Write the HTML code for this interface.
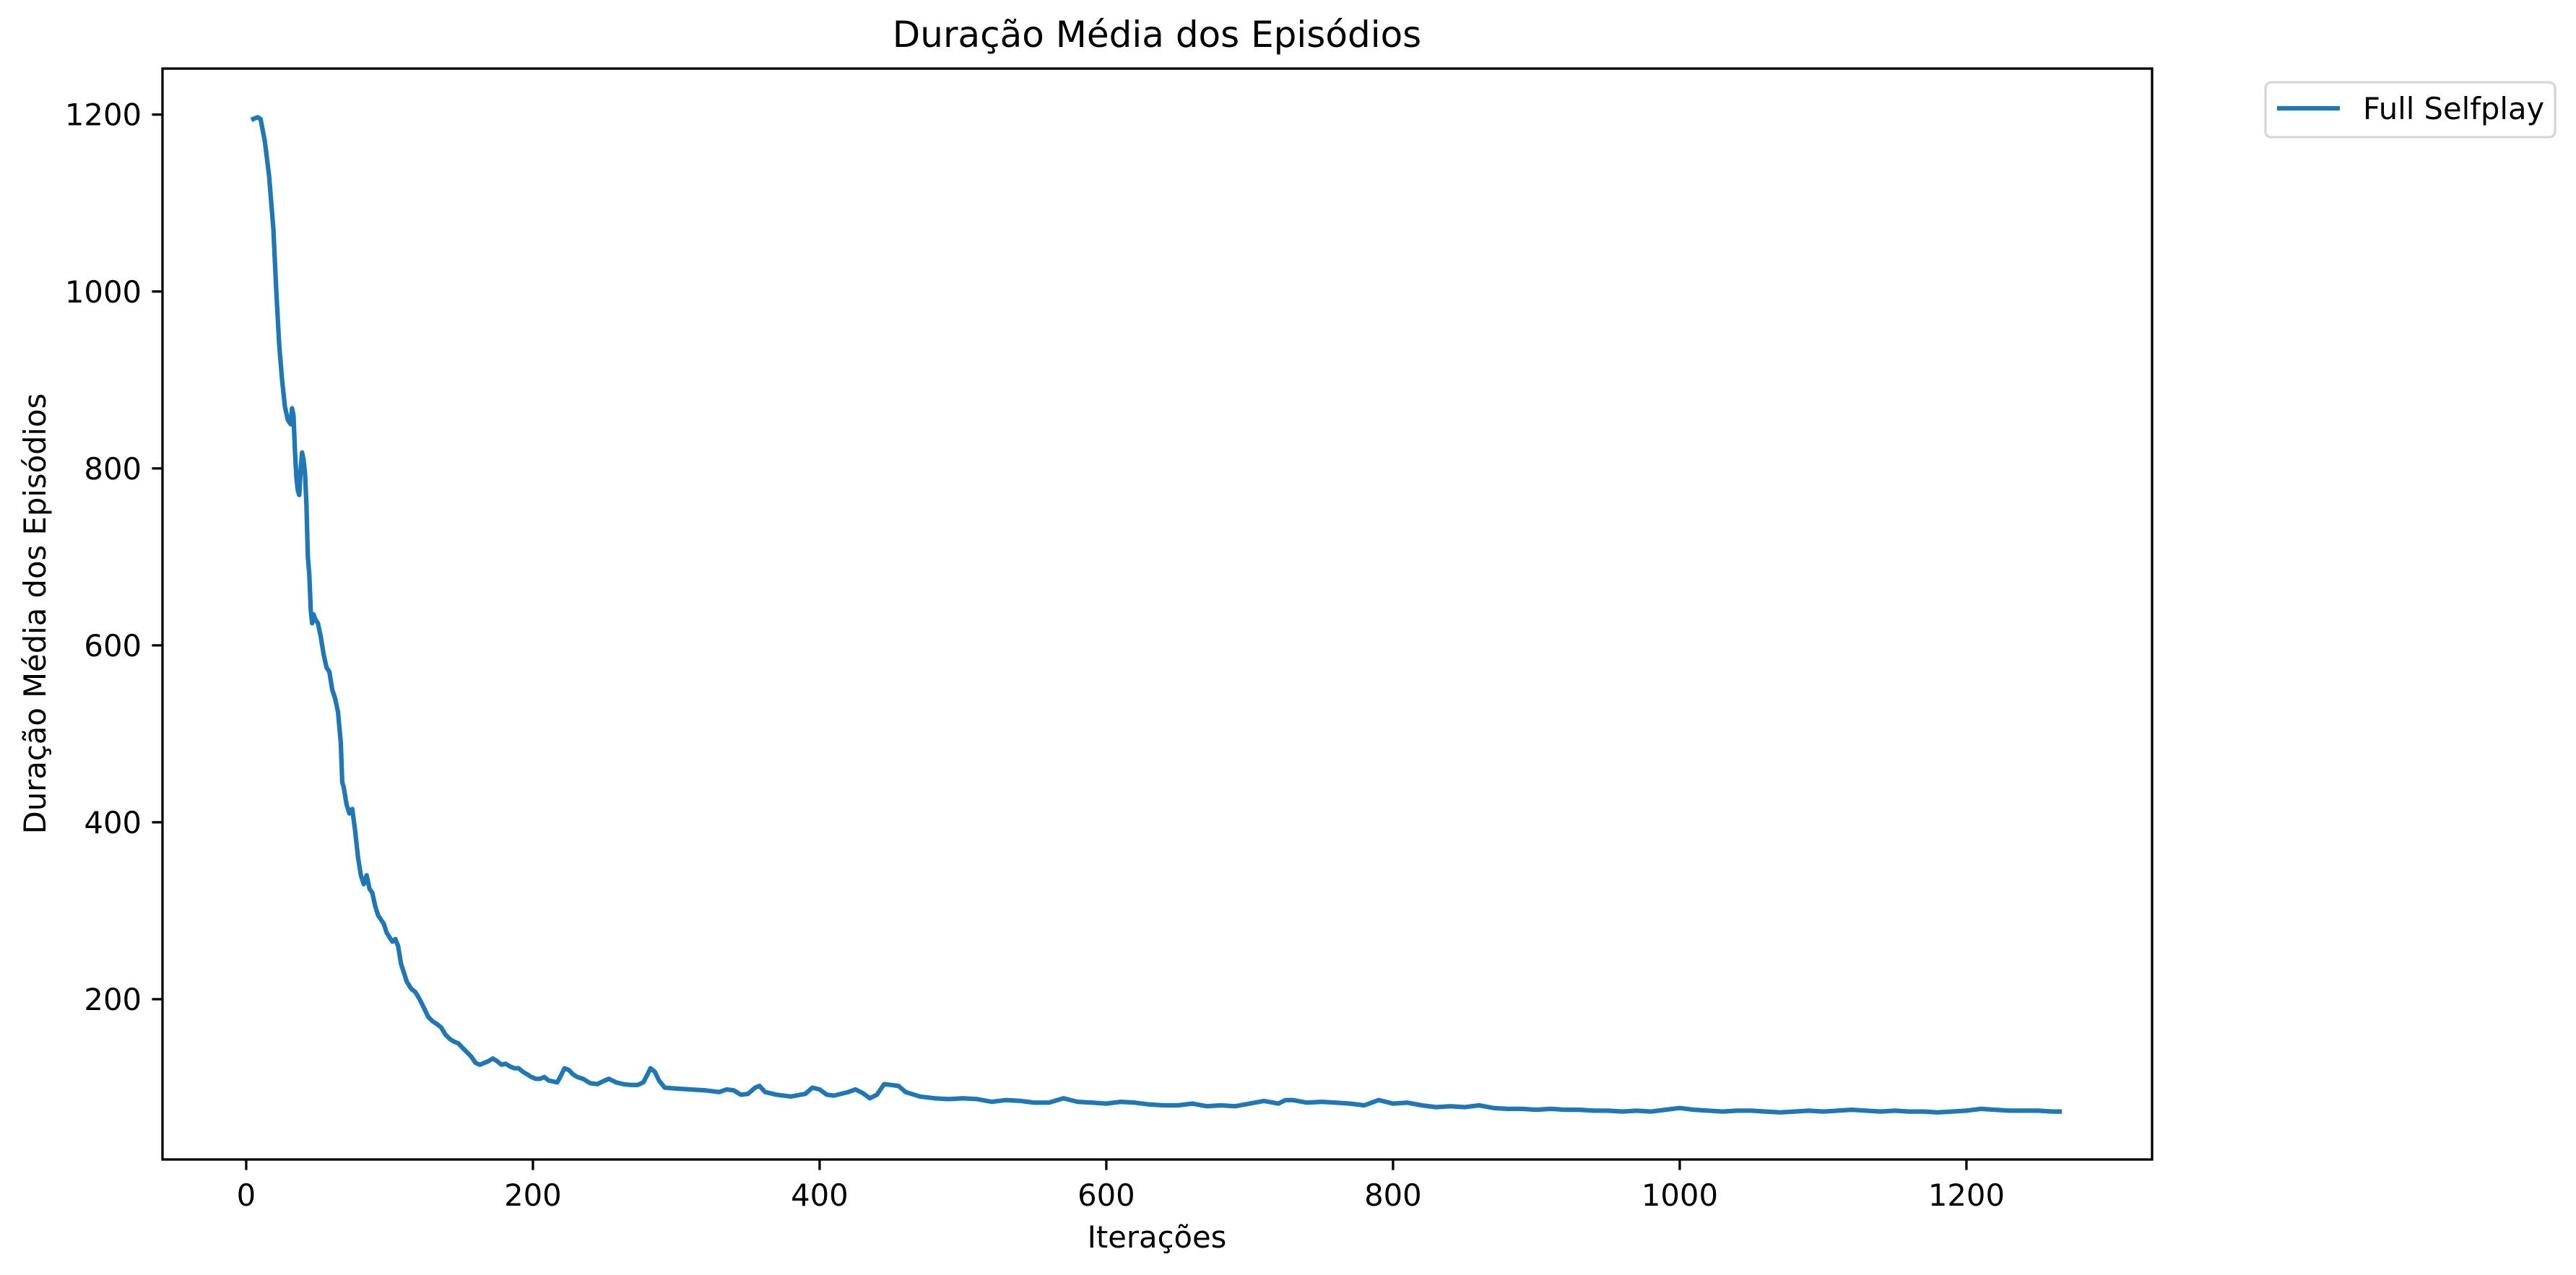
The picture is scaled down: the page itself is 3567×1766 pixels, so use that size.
<!DOCTYPE html>
<html><head><meta charset="utf-8"><style>
html,body{margin:0;padding:0;background:#fff;}
svg{display:block;font-family:"DejaVu Sans","Liberation Sans",sans-serif;}
</style></head><body>
<svg id="chart" width="3567" height="1766" viewBox="0 0 3567 1766" xmlns="http://www.w3.org/2000/svg">
<rect width="3567" height="1766" fill="#fff"/>
<text x="1602" y="65" font-size="50" text-anchor="middle">Duração Média dos Episódios</text>
<text x="1602" y="1728" font-size="41.7" text-anchor="middle">Iterações</text>
<text transform="translate(63,850) rotate(-90)" font-size="41.7" text-anchor="middle">Duração Média dos Episódios</text>
<g id="ticks"></g>
<path id="line" fill="none" stroke="#1f77b4" stroke-width="6.25" stroke-linejoin="round" stroke-linecap="square"/>
<rect x="225" y="95" width="2755" height="1511" fill="none" stroke="#000" stroke-width="3.3"/>
<g>
<rect x="3137" y="114" width="401" height="76" rx="8" fill="#fff" stroke="#d6d6d6" stroke-width="3.3"/>
<line x1="3153" y1="150" x2="3240" y2="150" stroke="#1f77b4" stroke-width="6.25"/>
<text x="3272" y="165" font-size="41.7">Full Selfplay</text>
</g>
</svg>
<script>
const xs = [5,8,10,13,16,19,21,23,25,27,29,31,32,33,34,35,36,37,38,39,40,41,42,43,44,45,46,47,48,50,52,54,56,58,60,62,64,66,67,68,70,72,74,76,78,80,82,84,86,88,90,92,94,96,98,100,102,104,106,108,110,112,115,118,121,124,127,130,133,136,139,142,145,148,151,154,157,160,163,166,169,172,175,178,181,184,187,190,193,196,199,202,205,208,211,214,217,220,222,225,228,231,235,240,245,250,253,258,263,268,273,277,280,282,285,288,292,300,310,320,330,335,340,345,350,355,358,362,370,380,390,395,400,405,410,420,425,430,435,440,445,450,455,460,470,480,490,500,510,520,530,540,550,560,570,580,590,600,610,620,630,640,650,660,670,680,690,700,710,720,725,730,740,750,760,770,780,790,800,810,820,830,840,850,860,870,880,890,900,910,920,930,940,950,960,970,980,990,1000,1010,1020,1030,1040,1050,1060,1070,1080,1090,1100,1110,1120,1130,1140,1150,1160,1170,1180,1190,1200,1210,1220,1230,1240,1250,1260,1265];
const ys = [1195,1197,1195,1170,1130,1070,1000,940,900,870,855,850,868,860,820,790,775,770,800,818,810,795,760,700,680,640,625,635,630,625,610,590,575,570,550,540,525,490,445,440,420,410,415,390,360,340,330,340,325,320,305,295,290,285,275,270,265,268,260,240,230,220,212,208,200,190,180,175,172,168,160,155,152,150,145,140,135,128,126,128,130,133,130,126,127,124,122,122,118,115,112,110,110,112,108,107,106,115,122,120,115,112,110,105,104,108,110,106,104,103,103,106,115,122,118,108,100,99,98,97,95,98,97,92,93,100,102,95,92,90,93,100,98,92,91,95,98,94,88,92,104,103,102,95,90,88,87,88,87,84,86,85,83,83,88,84,83,82,84,83,81,80,80,82,79,80,79,82,85,82,86,86,83,84,83,82,80,86,82,83,80,78,79,78,80,77,76,76,75,76,75,75,74,74,73,74,73,75,77,75,74,73,74,74,73,72,73,74,73,74,75,74,73,74,73,73,72,73,74,76,75,74,74,74,73,73];
const xTicks = [0,200,400,600,800,1000,1200];
const yTicks = [200,400,600,800,1000,1200];
const X0=225,X1=2980,Y0=95,Y1=1606;
const xMin=-58.4,xMax=1329.5,yMin=18.8,yMax=1252;
const sx=v=>X0+(v-xMin)/(xMax-xMin)*(X1-X0);
const sy=v=>Y1-(v-yMin)/(yMax-yMin)*(Y1-Y0);
const NS="http://www.w3.org/2000/svg";
let d="";
xs.forEach((x,i)=>{d+=(i?"L":"M")+sx(x).toFixed(1)+","+sy(ys[i]).toFixed(1);});
document.getElementById('line').setAttribute('d',d);
const g=document.getElementById('ticks');
xTicks.forEach(t=>{
  const l=document.createElementNS(NS,'line');
  l.setAttribute('x1',sx(t));l.setAttribute('x2',sx(t));l.setAttribute('y1',Y1);l.setAttribute('y2',Y1+14.6);
  l.setAttribute('stroke','#000');l.setAttribute('stroke-width','3.3');
  
  
  g.appendChild(l);
  const tx=document.createElementNS(NS,'text');
  tx.setAttribute('x',sx(t));tx.setAttribute('y',Y1+64);tx.setAttribute('font-size','41.7');tx.setAttribute('text-anchor','middle');
  tx.textContent=t;
  
  
  g.appendChild(tx);
});
yTicks.forEach(t=>{
  const l=document.createElementNS(NS,'line');
  l.setAttribute('x1',X0-14.6);l.setAttribute('x2',X0);l.setAttribute('y1',sy(t));l.setAttribute('y2',sy(t));
  l.setAttribute('stroke','#000');l.setAttribute('stroke-width','3.3');
  
  
  g.appendChild(l);
  const tx=document.createElementNS(NS,'text');
  tx.setAttribute('x',X0-29);tx.setAttribute('y',sy(t)+15);tx.setAttribute('font-size','41.7');tx.setAttribute('text-anchor','end');
  tx.textContent=t;
  
  
  g.appendChild(tx);
});
</script>
</body></html>
